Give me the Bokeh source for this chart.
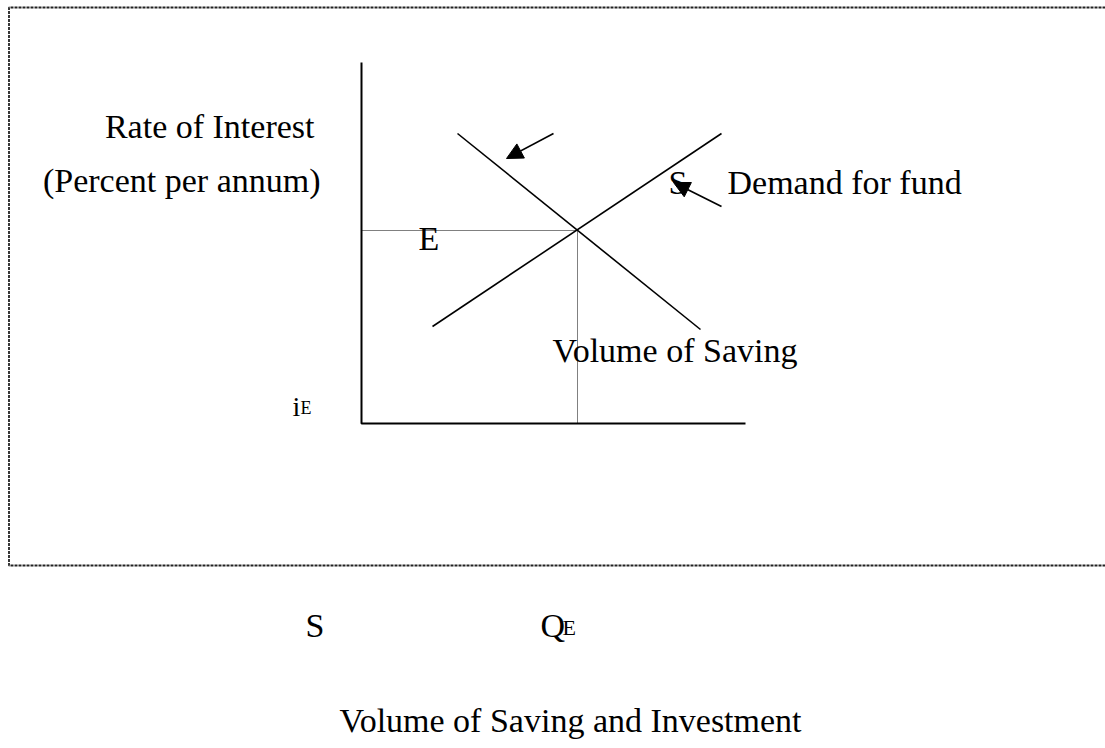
from bokeh.plotting import figure
from bokeh.models import Range1d, Arrow, NormalHead
from bokeh.core.properties import value
from bokeh.embed import file_html
from bokeh.resources import INLINE

# Diagram coordinates: origin at the axes' corner, x = volume of saving/investment, y = rate of interest
axis_x = [0, 0, 384]
axis_y = [361, 0, 0]

demand_x = [96, 339]
demand_y = [290, 94]

supply_x = [71, 360]
supply_y = [97, 290]

eq_x = 216
eq_y = 193

arrow1 = dict(x_start=192, y_start=290, x_end=145, y_end=265)
arrow2 = dict(x_start=360, y_start=217, x_end=312, y_end=241)

box_x = [760, -352.5, -352.5, 760]
box_y = [416, 416, -142, -142]

FONT = value("Liberation Serif")

p = figure(width=1105, height=748, output_backend="svg", toolbar_location=None,
           x_range=Range1d(-361, 744), y_range=Range1d(-325, 423),
           min_border=0, outline_line_color=None)
p.axis.visible = False
p.grid.visible = False

# dotted frame
p.line(box_x, box_y, line_color="#222222", line_width=1.8, line_dash="3 1")

# axes
p.line(axis_x, axis_y, line_color="black", line_width=2)

# guides to equilibrium
p.line([0, eq_x], [eq_y, eq_y], line_color="black", line_width=1, line_dash="1 1")
p.line([eq_x, eq_x], [eq_y, 0], line_color="black", line_width=1, line_dash="1 1")

# curves
p.line(demand_x, demand_y, line_color="black", line_width=1.6)
p.line(supply_x, supply_y, line_color="black", line_width=1.6)

for a in (arrow1, arrow2):
    p.add_layout(Arrow(end=NormalHead(size=16, fill_color="black", line_color="black"),
                       line_color="black", line_width=1.6, **a))

def txt(x, y, s, size="34px", align="left"):
    p.text(x=[x], y=[y], text=[s], text_font=FONT, text_font_size=size,
           text_align=align, text_baseline="alphabetic", text_color="black")

txt(-47, 297, "Rate of Interest", align="right")
txt(-41, 243, "(Percent per annum)", align="right")
txt(57, 185, "E")
txt(307, 241, "S")
txt(366, 241, "Demand for fund")
txt(191, 73, "Volume of Saving")
txt(-69, 17, "i", size="28px")
txt(-61, 16, "E", size="18px")
txt(-56, -202, "S")
txt(179, -202, "Q")
txt(201, -204, "E", size="22px")
txt(209, -297, "Volume of Saving and Investment", align="center")

open("out.html", "w").write(file_html(p, INLINE))
